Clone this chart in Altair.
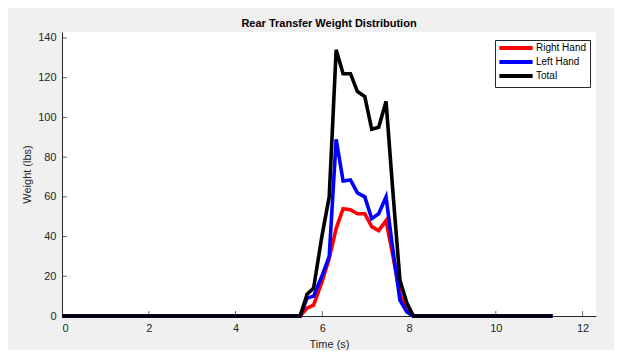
import altair as alt
import pandas as pd

# Data
time_s = [0, 5.49, 5.65, 5.80, 5.99, 6.16, 6.32, 6.48, 6.65, 6.81, 6.98, 7.14, 7.30, 7.47, 7.63, 7.79, 7.95, 8.10, 11.31]
right_hand = [0, 0, 4, 5.5, 17, 29, 44, 54, 53.5, 51.5, 51.5, 45, 43, 48, 30, 11.5, 2.5, 0, 0]
left_hand = [0, 0, 9, 10, 20, 30, 89, 68, 68.5, 62, 60, 49, 51.5, 60, 33, 8, 2, 0, 0]
total = [0, 0, 11, 14, 40, 60, 134, 122, 122, 113, 110.5, 94, 95, 108, 62, 18, 6.5, 0, 0]

series_names = ["Right Hand", "Left Hand", "Total"]
series_colors = ["#ff0000", "#0000ff", "#000000"]
x_ticks = [0, 2, 4, 6, 8, 10, 12]
y_ticks = [0, 20, 40, 60, 80, 100, 120, 140]

rows = []
for name, vals in zip(series_names, [right_hand, left_hand, total]):
    for t, v in zip(time_s, vals):
        rows.append({"t": t, "v": v, "series": name})
df = pd.DataFrame(rows)

FONT = "Liberation Sans"
W, H = 534, 284

x_scale = alt.Scale(domain=[0, 12.31], nice=False, zero=False)
y_scale = alt.Scale(domain=[0, 143], nice=False)
color_scale = alt.Scale(domain=series_names, range=series_colors)

x_axis = alt.Axis(values=x_ticks, title="Time (s)", ticks=False, grid=False,
                  labelPadding=6, titlePadding=5)
y_axis = alt.Axis(values=y_ticks, title="Weight (lbs)", ticks=False, grid=False,
                  labelPadding=6, titlePadding=5)

legend = alt.Legend(
    title=None, orient="none", legendX=433, legendY=8,
    fillColor="white", strokeColor="#262626", padding=3,
    symbolType="M-8.3,0H8.3", symbolSize=16, symbolStrokeWidth=4,
    symbolOffset=13, labelOffset=15,
    labelFontSize=10, labelFont=FONT, labelColor="#000000",
    rowPadding=-2,
)

layers = []
for i, name in enumerate(series_names):
    layers.append(
        alt.Chart(df).transform_filter(alt.datum.series == name)
        .mark_line(strokeWidth=3.6)
        .encode(
            x=alt.X("t:Q", scale=x_scale, axis=x_axis),
            y=alt.Y("v:Q", scale=y_scale, axis=y_axis),
            color=alt.Color("series:N", scale=color_scale, legend=legend,
                            sort=series_names),
        )
    )

xt = pd.DataFrame({"t": x_ticks[1:]})
yt = pd.DataFrame({"v": y_ticks[1:]})
x_tick_layer = alt.Chart(xt).mark_tick(size=5, thickness=1, color="#262626").encode(
    x=alt.X("t:Q", scale=x_scale, axis=x_axis),
    y=alt.value(H - 2.5),
)
y_tick_layer = alt.Chart(yt).mark_tick(size=5, thickness=1, color="#262626").encode(
    y=alt.Y("v:Q", scale=y_scale, axis=y_axis),
    x=alt.value(2.5),
)

chart = alt.layer(*layers, x_tick_layer, y_tick_layer).properties(
    width=W, height=H,
    title=alt.Title("Rear Transfer Weight Distribution", fontSize=11,
                    fontWeight="bold", font=FONT, color="#000000", offset=3),
    autosize=alt.AutoSizeParams(type="none"),
    padding={"left": 54, "top": 24, "right": 18, "bottom": 34},
    background="#f0f0f0",
).configure_view(
    fill="white", strokeWidth=0
).configure_axis(
    domainColor="#262626", domainWidth=1,
    labelFont=FONT, labelFontSize=11, labelColor="#262626",
    titleFont=FONT, titleFontSize=11, titleColor="#262626", titleFontWeight="normal",
)

chart.save("out.html", embed_options={"renderer": "svg", "actions": False})
